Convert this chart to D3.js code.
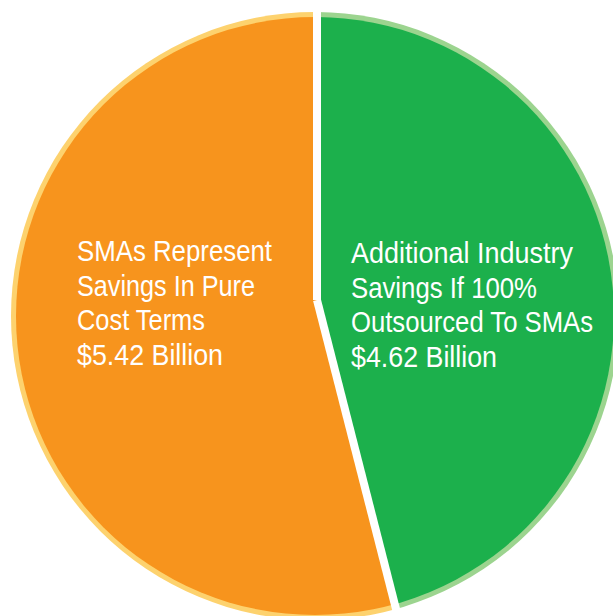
<!DOCTYPE html>
<html>
<head>
<meta charset="utf-8">
<script src="https://cdn.jsdelivr.net/npm/d3@7"></script>
<style>
  html, body { margin: 0; padding: 0; background: #fff; }
  svg { display: block; }
  .lbl { font-family: "Liberation Sans", Arial, sans-serif; font-size: 30px; fill: #fff; }
</style>
</head>
<body>
<svg id="viz" width="613" height="616"></svg>
<script>
// chart data
const categories = ['Additional Industry Savings If 100% Outsourced To SMAs', 'SMAs Represent Savings In Pure Cost Terms'];
const values = [4.62, 5.42];
const labelLines = [
  ['Additional Industry', 'Savings If 100%', 'Outsourced To SMAs'],
  ['SMAs Represent', 'Savings In Pure', 'Cost Terms']
];
const valueLabels = ['$4.62 Billion', '$5.42 Billion'];
const fills = ['#1cb04c', '#f7941d'];
const rims = ['#9cd48f', '#fdd26e'];

const svg = d3.select('#viz');

// disc and wedge vertex (vertex sits slightly above the disc centre, as drawn)
const disc = { x: 315, y: 316, r: 304 };
const vertex = { x: 317, y: 300 };
const rimWidth = 5;
const gap = 8;

const slices = d3.pie().sort(null).value(d => d)(values);

const wedge = d3.arc().innerRadius(0).outerRadius(1200);

const defs = svg.append('defs');
slices.forEach((s, i) => {
  defs.append('clipPath')
    .attr('id', `slice-${i}`)
    .append('path')
    .attr('transform', `translate(${vertex.x},${vertex.y})`)
    .attr('d', wedge(s));
});

const g = svg.append('g');
slices.forEach((s, i) => {
  const sg = g.append('g').attr('clip-path', `url(#slice-${i})`);
  sg.append('circle')
    .attr('cx', disc.x).attr('cy', disc.y).attr('r', disc.r)
    .attr('fill', rims[i]);
  sg.append('circle')
    .attr('cx', disc.x).attr('cy', disc.y).attr('r', disc.r - rimWidth)
    .attr('fill', fills[i]);
});

// white separators along slice boundaries
g.selectAll('line.sep')
  .data(slices)
  .join('line')
  .attr('class', 'sep')
  .attr('x1', vertex.x)
  .attr('y1', vertex.y)
  .attr('x2', d => vertex.x + 1200 * Math.sin(d.startAngle))
  .attr('y2', d => vertex.y - 1200 * Math.cos(d.startAngle))
  .attr('stroke', '#fff')
  .attr('stroke-width', gap);

// labels: the original face is a condensed one, so each line is squeezed to its width
const labelPos = [
  { x: vertex.x + 34, y: 263 },
  { x: vertex.x - 240, y: 261 }
];
const lineWidths = [
  [222, 186, 242, 146],
  [195, 178, 128, 146]
];
const lineH = 34.5;

slices.forEach((s, i) => {
  const lines = labelLines[i].concat([valueLabels[i]]);
  g.append('g')
    .attr('transform', `translate(${labelPos[i].x},${labelPos[i].y})`)
    .selectAll('text')
    .data(lines)
    .join('text')
    .attr('class', 'lbl')
    .attr('x', 0)
    .attr('y', (d, k) => k * lineH)
    .attr('textLength', (d, k) => lineWidths[i][k])
    .attr('lengthAdjust', 'spacingAndGlyphs')
    .text(d => d);
});
</script>
</body>
</html>
